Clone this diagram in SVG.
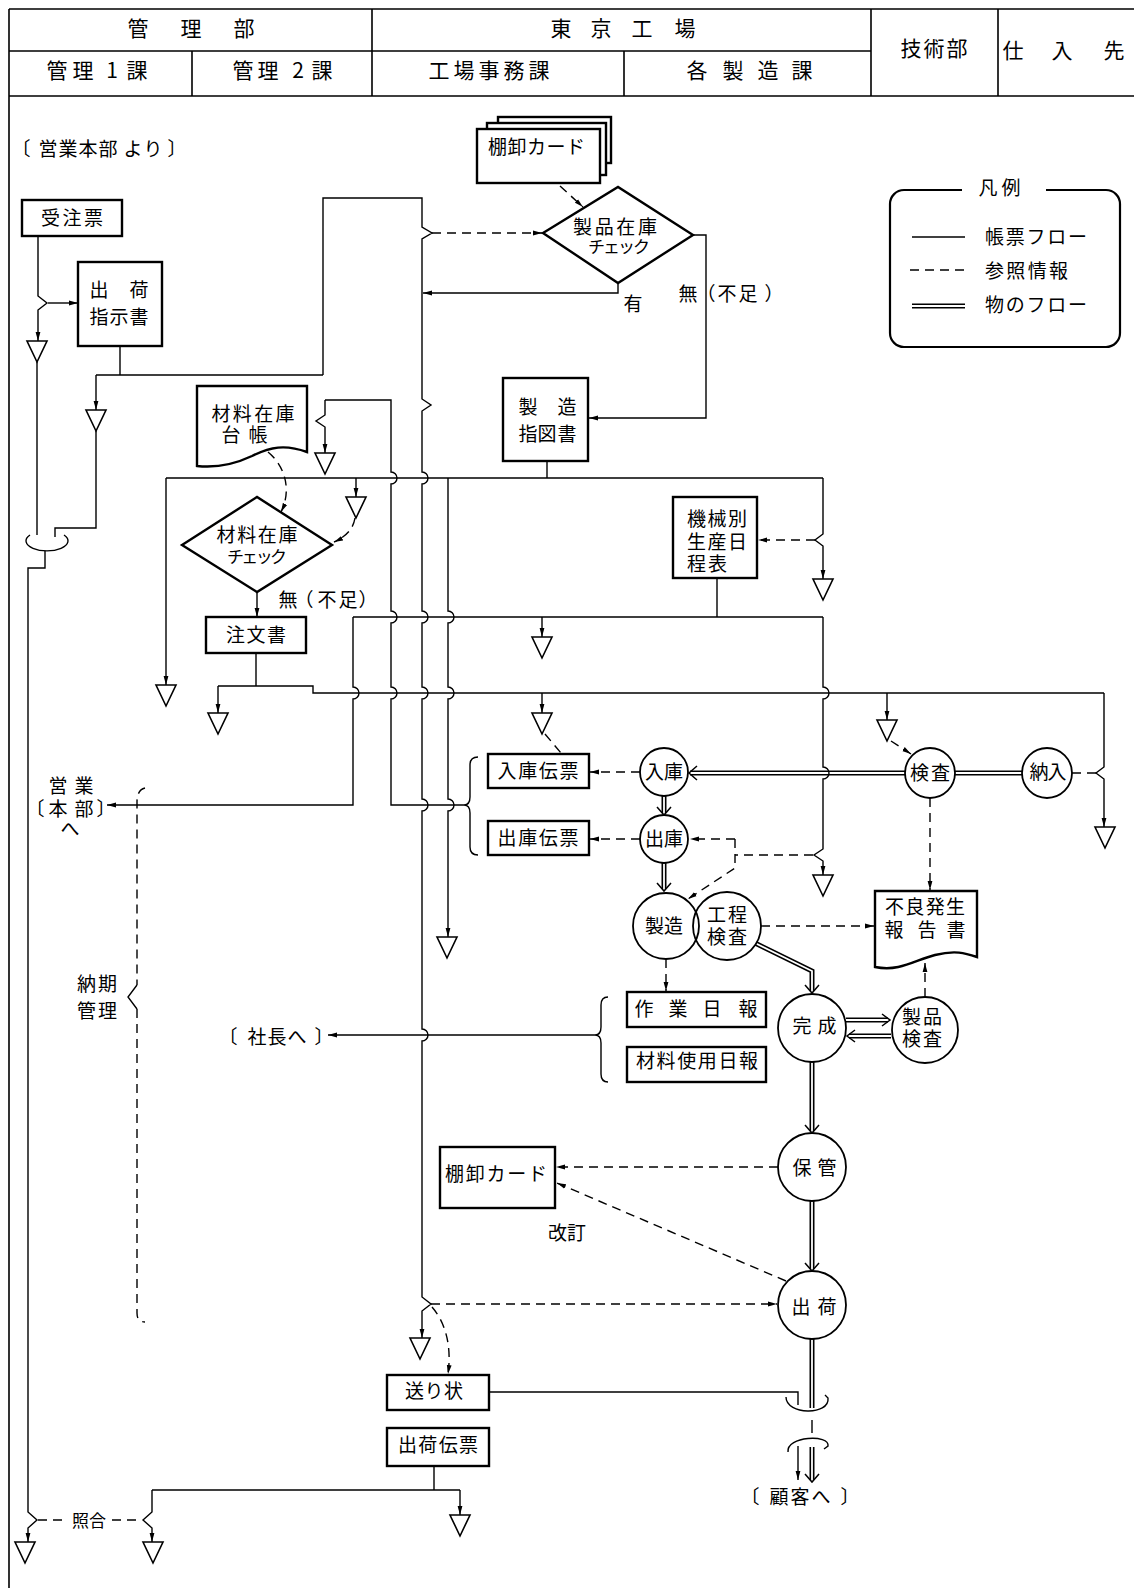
<svg xmlns="http://www.w3.org/2000/svg" xmlns:xlink="http://www.w3.org/1999/xlink" width="1134" height="1588" viewBox="0 0 1134 1588">
<style>
.ln{fill:none;stroke:#000;stroke-width:1.4}
.ds{fill:none;stroke:#000;stroke-width:1.4;stroke-dasharray:9 6}
.bx{fill:#fff;stroke:#000;stroke-width:2.4}
.ci{fill:#fff;stroke:#000;stroke-width:1.8}
.fr{fill:none;stroke:#000;stroke-width:1.6}
.dbo{fill:none;stroke:#000;stroke-width:5}
.dbi{fill:none;stroke:#fff;stroke-width:1.8}
.va{fill:none;stroke:#000;stroke-width:1.5}
text{font-family:"Noto Sans CJK JP","Noto Sans CJK SC",sans-serif;font-size:19px;fill:#000}
.m{text-anchor:middle}
.h{font-size:21px;text-anchor:middle}
.s{font-size:17px}
</style>
<defs>
<marker id="a" markerWidth="10" markerHeight="6" refX="9" refY="3" orient="auto" markerUnits="userSpaceOnUse"><path d="M0,0.6 L9,3 L0,5.4 Z" fill="#000"/></marker>
<path id="tri" d="M-10,0 H10 L0,21 Z" fill="#fff" stroke="#000" stroke-width="1.6"/>
<path id="d1" d="M690,773 H905"/>
<path id="d2" d="M955,773 H1022"/>
<path id="d3" d="M664,796 V813"/>
<path id="d4" d="M664,863 V889"/>
<path id="d5" d="M755,943 L812,971 V991"/>
<path id="d6" d="M846,1020 H888"/>
<path id="d7" d="M891,1036 H849"/>
<path id="d8" d="M812,1062 V1131"/>
<path id="d9" d="M812,1201 V1269"/>
<path id="d10" d="M812,1339 V1408"/>
<path id="d11" d="M812,1447 V1480"/>
<path id="d12" d="M912,306 H965"/>
</defs>
<rect width="1134" height="1588" fill="#fff"/>

<g id="header">
<path class="fr" d="M9,9 H1134 M9,51 H871 M9,96 H1134 M9,9 V1588 M192,51 V96 M372,9 V96 M624,51 V96 M871,9 V96 M998,9 V96"/>
<text class="h" x="138 191 244" y="36">管理部</text>
<text class="h" x="561 601 642 685" y="36">東京工場</text>
<text class="h" x="57 83 112 137" y="78">管理1課</text>
<text class="h" x="243 268 298 322" y="78">管理2課</text>
<text class="h" x="439 464 489 514 539" y="78">工場事務課</text>
<text class="h" x="697 733 768 802" y="78">各製造課</text>
<text class="h" x="911 934 957" y="56">技術部</text>
<text class="h" x="1013 1062 1114" y="58">仕入先</text>
</g>

<g id="connectors">
<!-- left column -->
<path class="ln" d="M38,236 V296 L47,303 L38,310 V341" marker-end="url(#a)"/>
<path class="ln" d="M48,303 H78" marker-end="url(#a)"/>
<path class="ln" d="M37,362 V535"/>
<path class="ln" d="M120,346 V375 M96,375 H323"/>
<path class="ln" d="M96,375 V410" marker-end="url(#a)"/>
<path class="ln" d="M96,431 V528 H55 V537"/>
<path class="ln" d="M30,535 A21,10 0 1 0 64,535"/>
<path class="ln" d="M45,551 V568 H28 V1512 L37,1520 L28,1528 V1542" marker-end="url(#a)"/>
<path class="ln" d="M434,1466 V1490 M152,1490 H460"/>
<path class="ln" d="M152,1490 V1512 L143,1520 L152,1528 V1542" marker-end="url(#a)"/>
<path class="ln" d="M460,1490 V1515" marker-end="url(#a)"/>
<path class="ds" d="M38,1520 H66 M112,1520 H142" stroke-dasharray="7 5"/>
<!-- main vertical x=422 -->
<path class="ln" d="M323,375 V198 H422 V227 L432,233 L422,239 V399 L431,405 L422,411 V472 a6,6 0 0 1 0,12 V611 a6,6 0 0 1 0,12 V687 a6,6 0 0 1 0,12 V799 a6,6 0 0 1 0,12 V1029 a6,6 0 0 1 0,12 V1297 L431,1304 L422,1311 V1338" marker-end="url(#a)"/>
<path class="ds" d="M432,233 H542" marker-end="url(#a)"/>
<path class="ds" d="M560,186 L583,207" marker-end="url(#a)"/>
<path class="ln" d="M618,283 V293 H423" marker-end="url(#a)"/>
<path class="ln" d="M693,235 H706 V418 H589" marker-end="url(#a)"/>
<!-- y=478 -->
<path class="ln" d="M547,461 V478 M166,478 H823"/>
<path class="ln" d="M166,478 V685" marker-end="url(#a)"/>
<path class="ln" d="M356,478 V497" marker-end="url(#a)"/>
<path class="ln" d="M823,478 V534 L815,540 L823,546 V579" marker-end="url(#a)"/>
<path class="ds" d="M815,540 H758" marker-end="url(#a)"/>
<path class="ln" d="M448,478 V611 a6,6 0 0 1 0,12 V687 a6,6 0 0 1 0,12 V799 a6,6 0 0 1 0,12 V937" marker-end="url(#a)"/>
<!-- ledger line -->
<path class="ln" d="M325,400 H391 V472 a6,6 0 0 1 0,12 V611 a6,6 0 0 1 0,12 V687 a6,6 0 0 1 0,12 V805 H464"/>
<path class="ln" d="M325,400 V415 L316,421 L325,427 V453" marker-end="url(#a)"/>
<path class="ds" d="M268,452 C285,466 292,490 281,512" marker-end="url(#a)"/>
<path class="ds" d="M355,518 C353,530 345,537 334,542" marker-end="url(#a)"/>
<path class="ln" d="M257,592 V617" marker-end="url(#a)"/>
<!-- y=617 -->
<path class="ln" d="M717,578 V617 M353,617 H823"/>
<path class="ln" d="M353,617 V687 a6,6 0 0 1 0,12 V805 H107" marker-end="url(#a)"/>
<path class="ln" d="M542,617 V637" marker-end="url(#a)"/>
<!-- y=693 -->
<path class="ln" d="M256,653 V686 M218,686 H313 V693 H1104"/>
<path class="ln" d="M218,686 V713" marker-end="url(#a)"/>
<path class="ln" d="M542,693 V713" marker-end="url(#a)"/>
<path class="ln" d="M887,693 V720" marker-end="url(#a)"/>
<path class="ln" d="M1104,693 V767 L1096,773 L1104,779 V827" marker-end="url(#a)"/>
<path class="ds" d="M545,734 L561,753"/>
<path class="ds" d="M891,741 L911,754" marker-end="url(#a)"/>
<path class="ds" d="M1072,773 H1096"/>
<!-- double lines -->
<use xlink:href="#d1" class="dbo"/><use xlink:href="#d2" class="dbo"/><use xlink:href="#d3" class="dbo"/><use xlink:href="#d4" class="dbo"/><use xlink:href="#d5" class="dbo"/><use xlink:href="#d6" class="dbo"/><use xlink:href="#d7" class="dbo"/><use xlink:href="#d8" class="dbo"/><use xlink:href="#d9" class="dbo"/><use xlink:href="#d10" class="dbo"/><use xlink:href="#d11" class="dbo"/><use xlink:href="#d12" class="dbo"/>
<use xlink:href="#d1" class="dbi"/><use xlink:href="#d2" class="dbi"/><use xlink:href="#d3" class="dbi"/><use xlink:href="#d4" class="dbi"/><use xlink:href="#d5" class="dbi"/><use xlink:href="#d6" class="dbi"/><use xlink:href="#d7" class="dbi"/><use xlink:href="#d8" class="dbi"/><use xlink:href="#d9" class="dbi"/><use xlink:href="#d10" class="dbi"/><use xlink:href="#d11" class="dbi"/><use xlink:href="#d12" class="dbi"/>
<path class="va" d="M697,766 L689,773 L697,780 M657,807 L664,815 L671,807 M657,883 L664,891 L671,883 M805,985 L812,993 L819,985 M882,1014 L890,1020 L882,1026 M855,1030 L847,1036 L855,1042 M805,1125 L812,1133 L819,1125 M805,1263 L812,1271 L819,1263 M805,1474 L812,1482 L819,1474"/>
<!-- x=823 lower -->
<path class="ln" d="M823,617 V687 a6,6 0 0 1 0,12 V767 a6,6 0 0 1 0,12 V849 L814,855 L823,861 V875" marker-end="url(#a)"/>
<path class="ds" d="M813,855 H735 M735,839 V868 L688,899" marker-end="url(#a)"/>
<path class="ds" d="M735,839 H690" marker-end="url(#a)"/>
<!-- braces -->
<path class="ln" d="M478,757 Q470,757 470,765 V797 Q470,805 464,805 Q470,805 470,813 V847 Q470,855 478,855"/>
<path class="ln" d="M608,997 Q601,997 601,1005 V1027 Q601,1035 595,1035 Q601,1035 601,1043 V1074 Q601,1082 608,1082"/>
<path class="ln" d="M595,1035 H328" marker-end="url(#a)"/>
<path class="ds" d="M640,772 H590" marker-end="url(#a)"/>
<path class="ds" d="M640,839 H590" marker-end="url(#a)"/>
<path class="ds" d="M666,959 V991" marker-end="url(#a)"/>
<path class="ds" d="M761,926 H874" marker-end="url(#a)"/>
<path class="ds" d="M930,798 V890" marker-end="url(#a)"/>
<path class="ds" d="M925,997 V963" marker-end="url(#a)"/>
<!-- lower right -->
<path class="ds" d="M778,1167 H556" marker-end="url(#a)"/>
<path class="ds" d="M786,1281 L557,1183" marker-end="url(#a)"/>
<path class="ds" d="M431,1304 H777" marker-end="url(#a)"/>
<path class="ds" d="M432,1307 C445,1322 452,1345 448,1374" marker-end="url(#a)"/>
<path class="ln" d="M489,1392 H798 V1405"/>
<path class="ln" d="M786,1397 C786,1415 830,1416 828,1398 L825,1395"/>
<path class="ln" d="M812,1420 V1433"/>
<path class="ln" d="M788,1452 C786,1436 830,1434 828,1446 L824,1449"/>
<path class="ln" d="M798,1446 V1480" marker-end="url(#a)"/>
<!-- delivery bracket -->
<path class="ds" d="M145,788 Q137,790 137,802 V985 M137,1009 V1313 Q137,1322 145,1322" stroke-dasharray="11 6"/>
<path class="ln" d="M137,985 L128,997 L137,1009"/>
</g>

<g id="files">
<use xlink:href="#tri" x="37" y="341"/>
<use xlink:href="#tri" x="96" y="410"/>
<use xlink:href="#tri" x="325" y="453"/>
<use xlink:href="#tri" x="356" y="497"/>
<use xlink:href="#tri" x="166" y="685"/>
<use xlink:href="#tri" x="218" y="713"/>
<use xlink:href="#tri" x="823" y="579"/>
<use xlink:href="#tri" x="542" y="637"/>
<use xlink:href="#tri" x="542" y="713"/>
<use xlink:href="#tri" x="887" y="720"/>
<use xlink:href="#tri" x="1105" y="827"/>
<use xlink:href="#tri" x="823" y="875"/>
<use xlink:href="#tri" x="447" y="937"/>
<use xlink:href="#tri" x="420" y="1338"/>
<use xlink:href="#tri" x="460" y="1515"/>
<use xlink:href="#tri" x="25" y="1542"/>
<use xlink:href="#tri" x="153" y="1542"/>
</g>

<g id="labels">
<text x="21 48 68 88 108 133 153 177" y="156" class="m">〔営業本部より〕</text>
<text x="633" y="311" class="m">有</text>
<text x="688 706 727 748 774" y="301" class="m">無（不足）</text>
<text x="288 304 327 348 368" y="607" class="m">無（不足）</text>
<text x="58 84" y="793" class="m">営業</text>
<text x="35 58 84 106" y="816" class="m">〔本部〕</text>
<text x="70" y="836" class="m">へ</text>
<text x="97" y="991" class="m" textLength="40">納期</text>
<text x="97" y="1018" class="m" textLength="40">管理</text>
<text x="228 257 277 297 324" y="1044" class="m">〔社長へ〕</text>
<text x="89" y="1527" class="m s">照合</text>
<text x="567" y="1240" class="m" textLength="38">改訂</text>
<text x="750 779 800 821 850" y="1504" class="m">〔顧客へ〕</text>
</g>

<g id="n-juchu"><rect class="bx" x="22" y="200" width="100" height="36"/><text x="72" y="225" class="m" textLength="62">受注票</text></g>
<g id="n-shukkashiji"><rect class="bx" x="78" y="262" width="84" height="84"/><text x="99 139" y="297" class="m">出荷</text><text x="99 119 139" y="324" class="m">指示書</text></g>
<g id="n-tana1">
<rect class="bx" x="498" y="117" width="113" height="46"/>
<rect class="bx" x="487" y="123" width="119" height="52"/>
<rect class="bx" x="477" y="129" width="123" height="54"/>
<text x="488" y="154" textLength="97">棚卸カード</text></g>
<g id="n-seihinzaiko"><path class="bx" d="M543,233 L618,187 L693,235 L618,283 Z"/><text x="615" y="234" class="m" textLength="84">製品在庫</text><text x="619" y="253" class="m s" textLength="62">チェック</text></g>
<g id="n-seizoshizu"><rect class="bx" x="503" y="378" width="85" height="83"/><text x="528 567" y="414" class="m">製造</text><text x="528 547 567" y="441" class="m">指図書</text></g>
<g id="n-zairyodaicho"><path class="bx" d="M197,386 H307 V452 C285,444 270,447 252,456 C235,464 215,468 197,466 Z"/><text x="253" y="421" class="m" textLength="83">材料在庫</text><text x="231 258" y="442" class="m">台帳</text></g>
<g id="n-zairyocheck"><path class="bx" d="M182,545 L257,497 L332,545 L257,592 Z"/><text x="257" y="542" class="m" textLength="81">材料在庫</text><text x="257" y="563" class="m s" textLength="60">チェック</text></g>
<g id="n-chumon"><rect class="bx" x="206" y="617" width="100" height="36"/><text x="256" y="642" class="m" textLength="60">注文書</text></g>
<g id="n-kikai"><rect class="bx" x="673" y="497" width="84" height="81"/><text x="687" y="526" textLength="60">機械別</text><text x="687" y="549" textLength="60">生産日</text><text x="687" y="571" textLength="40">程表</text></g>
<g id="n-nyukodenpyo"><rect class="bx" x="488" y="754" width="101" height="34"/><text x="538" y="778" class="m" textLength="81">入庫伝票</text></g>
<g id="n-shukkodenpyo"><rect class="bx" x="488" y="821" width="101" height="34"/><text x="538" y="845" class="m" textLength="81">出庫伝票</text></g>
<g id="n-nyuko"><circle class="ci" cx="664" cy="772" r="24"/><text x="664" y="779" class="m" textLength="38">入庫</text></g>
<g id="n-shukko"><circle class="ci" cx="664" cy="839" r="24"/><text x="664" y="846" class="m" textLength="38">出庫</text></g>
<g id="n-koteikensa"><circle class="ci" cx="727" cy="926" r="34"/><text x="727" y="922" class="m" textLength="40">工程</text><text x="727" y="944" class="m" textLength="40">検査</text></g>
<g id="n-seizo"><circle class="ci" cx="666" cy="926" r="33" fill="none" style="fill:none"/><text x="664" y="933" class="m" textLength="38">製造</text></g>
<g id="n-furyo"><path class="bx" d="M875,891 H977 V957 C965,953 955,950 935,955 C915,960 900,972 875,967 Z"/><text x="925" y="914" class="m" textLength="80">不良発生</text><text x="894 927 956" y="937" class="m">報告書</text></g>
<g id="n-kensa"><circle class="ci" cx="930" cy="773" r="25"/><text x="930" y="780" class="m" textLength="40">検査</text></g>
<g id="n-nonyu"><circle class="ci" cx="1047" cy="773" r="25"/><text x="1048" y="779" class="m" textLength="37">納入</text></g>
<g id="n-sagyo"><rect class="bx" x="627" y="992" width="139" height="35"/><text x="644 678 712 748" y="1016" class="m">作業日報</text></g>
<g id="n-zairyoshiyo"><rect class="bx" x="627" y="1047" width="139" height="35"/><text x="697" y="1068" class="m" textLength="122">材料使用日報</text></g>
<g id="n-kansei"><circle class="ci" cx="812" cy="1028" r="34"/><text x="802 827" y="1033" class="m">完成</text></g>
<g id="n-seihinkensa"><circle class="ci" cx="925" cy="1030" r="33"/><text x="922" y="1024" class="m" textLength="40">製品</text><text x="922" y="1046" class="m" textLength="40">検査</text></g>
<g id="n-hokan"><circle class="ci" cx="812" cy="1167" r="34"/><text x="802 827" y="1175" class="m">保管</text></g>
<g id="n-shukka"><circle class="ci" cx="812" cy="1305" r="34"/><text x="801 827" y="1314" class="m">出荷</text></g>
<g id="n-tana2"><rect class="bx" x="440" y="1147" width="115" height="61"/><text x="445" y="1181" textLength="102">棚卸カード</text></g>
<g id="n-okurijo"><rect class="bx" x="387" y="1375" width="102" height="35"/><text x="434" y="1398" class="m" textLength="58">送り状</text></g>
<g id="n-shukkadenpyo"><rect class="bx" x="387" y="1428" width="102" height="38"/><text x="438" y="1452" class="m" textLength="80">出荷伝票</text></g>

<g id="legend">
<rect x="890" y="190" width="230" height="157" rx="14" fill="none" stroke="#000" stroke-width="2.2"/>
<rect x="962" y="184" width="84" height="12" fill="#fff"/>
<text x="988 1011" y="195" class="m">凡例</text>
<path class="ln" d="M912,237 H965"/>
<text x="985" y="244" textLength="102">帳票フロー</text>
<path class="ds" d="M910,270 H968" stroke-dasharray="8 5"/>
<text x="985" y="278" textLength="83">参照情報</text>
<text x="985" y="312" textLength="102">物のフロー</text>
</g>
</svg>
